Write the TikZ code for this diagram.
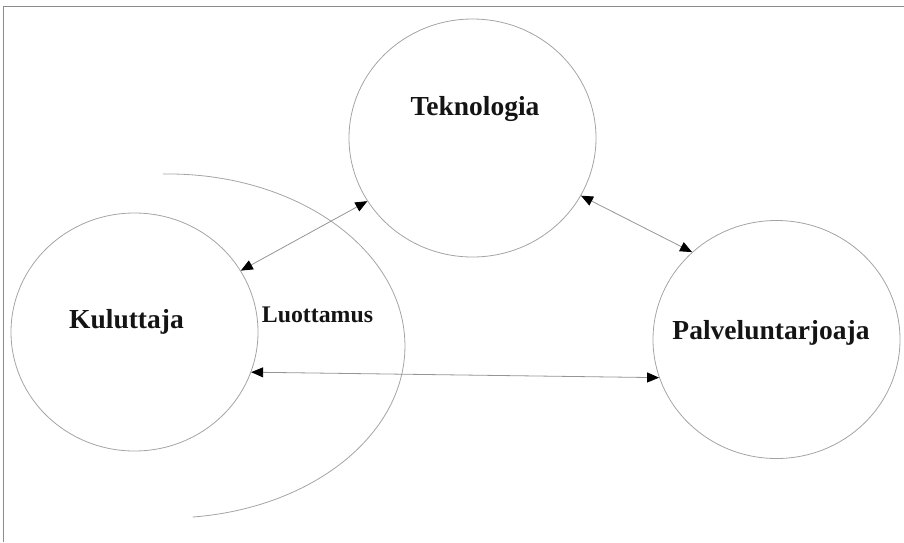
\documentclass[tikz,border=0pt]{standalone}
\usepackage{fontspec}
\setmainfont{Liberation Serif}
\usetikzlibrary{shapes.geometric,arrows.meta}
\definecolor{circgray}{HTML}{A4A4A4}
\definecolor{arrgray}{HTML}{959595}
\definecolor{framegray}{HTML}{8C8C8C}
\tikzset{
  bubble/.style={draw=circgray,line width=0.8pt,ellipse,inner sep=0pt,minimum width=247pt,minimum height=238pt},
  lbl/.style={font=\bfseries\fontsize{27.5}{32}\selectfont,text=black!92,anchor=base,inner sep=0pt},
  smalllbl/.style={font=\bfseries\fontsize{23.8}{28}\selectfont,text=black!92,anchor=base,inner sep=0pt},
  link/.style={draw=arrgray,line width=0.8pt,{Triangle[length=12pt,width=10pt,color=black]}-{Triangle[length=12pt,width=10pt,color=black]}},
  trust/.style={draw=circgray,line width=0.8pt},
  frameline/.style={draw=framegray,line width=1pt}
}
\begin{document}
\begin{tikzpicture}[x=1pt,y=1pt]
\useasboundingbox (0,0) rectangle (904,-542);
% frame
\coordinate (fl) at (3.3,-542);
\coordinate (fc) at (3.3,-6.3);
\coordinate (fr) at (904,-6.3);
\draw[frameline] (fl) -- (fc) -- (fr);
% circles
\node[bubble] (tek) at (472.5,-138) {};
\node[bubble] (kul) at (134.5,-332) {};
\node[bubble] (pal) at (776.5,-339.5) {};
% trust arc
\draw[trust] (163,-174) arc[start angle=91.2,end angle=-84,x radius=237,y radius=172];
% texts
\node[lbl] (tektxt) at (475,-115) {Teknologia};
\node[lbl] (kultxt) at (126.5,-328.3) {Kuluttaja};
\node[lbl] (paltxt) at (771,-339.3) {Palveluntarjoaja};
\node[smalllbl] (luo) at (317.5,-322.7) {Luottamus};
% connectors
\draw[link] (kul.30.3) -- (tek.211.9);
\draw[link] (tek.-28) -- (pal.134.3);
\draw[link] (kul.-19.4) -- (pal.198.6);
\end{tikzpicture}
\end{document}
